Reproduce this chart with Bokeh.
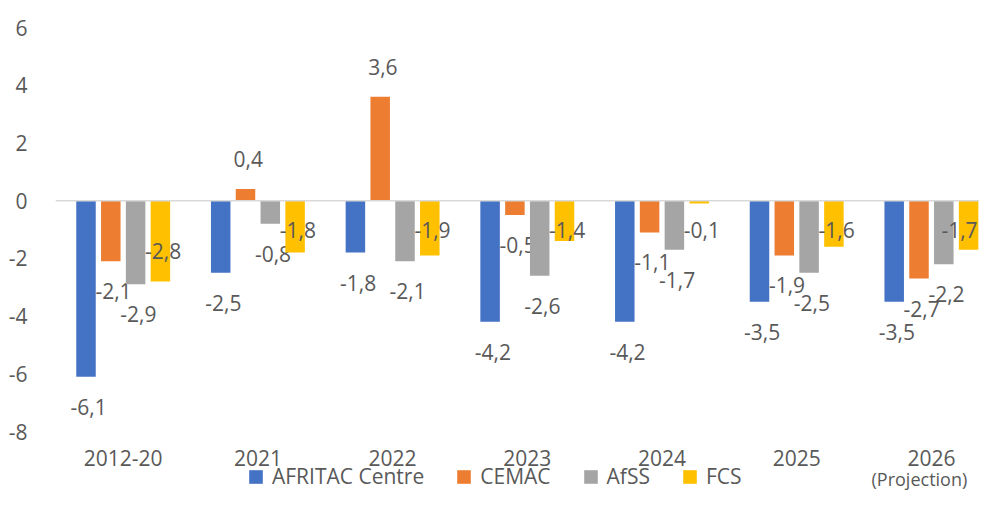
from bokeh.plotting import figure
from bokeh.models import (ColumnDataSource, Range1d, FixedTicker, Span, Legend, LegendItem, Label)
from bokeh.transform import dodge
from bokeh.core.properties import value
from bokeh.embed import file_html
from bokeh.resources import INLINE

categories = ["2012-20", "2021", "2022", "2023", "2024", "2025", "2026"]
series_names = ["AFRITAC Centre", "CEMAC", "AfSS", "FCS"]
afritac = [-6.1, -2.5, -1.8, -4.2, -4.2, -3.5, -3.5]
cemac = [-2.1, 0.4, 3.6, -0.5, -1.1, -1.9, -2.7]
afss = [-2.9, -0.8, -2.1, -2.6, -1.7, -2.5, -2.2]
fcs = [-2.8, -1.8, -1.9, -1.4, -0.1, -1.6, -1.7]
y_ticks = [-8, -6, -4, -2, 0, 2, 4, 6]
note = "(Projection)"

colors = ["#4472C4", "#ED7D31", "#A5A5A5", "#FFC000"]
TXT = "#595959"
FONT = "Open Sans"

W, H = 979, 490
LEFT, TOP = 55, 27
PPU = (431 - TOP) / 14.0          # pixels per data unit (vertical)
Y0 = 6 - (H - TOP) / PPU          # frame reaches the canvas bottom
XPPU = 134.7                      # pixels per category
X0 = -67.7 / XPPU
X1 = X0 + (W - LEFT) / XPPU

p = figure(width=W, height=H, output_backend="svg", toolbar_location=None,
           x_range=Range1d(X0, X1), y_range=Range1d(Y0, 6),
           min_border_left=LEFT, min_border_right=0, min_border_top=TOP, min_border_bottom=0)
p.outline_line_color = None
p.grid.visible = False
p.background_fill_color = "white"

xs = list(range(len(categories)))
pitch = 24.8 / XPPU
bw = 19.5 / XPPU
all_series = [afritac, cemac, afss, fcs]
renderers = []
for i, (name, vals, col) in enumerate(zip(series_names, all_series, colors)):
    off = (i - 1.5) * pitch
    if i == 3:
        ly = [min(v + 30 / PPU, -29 / PPU) for v in vals]
    else:
        ly = [v + 30 / PPU if v > 0 else v - 30 / PPU for v in vals]
    # keep labels inside the plot area (shift left near the right edge)
    xo = []
    for x in xs:
        right_px = (x + off + 0.02 - X0) * XPPU + 19
        xo.append(min(0, (W - LEFT - 1) - right_px))
    src = ColumnDataSource(dict(x=xs, top=vals, ly=ly, xo=xo,
                                lab=[f"{v:.1f}".replace(".", ",") for v in vals]))
    r = p.vbar(x=dodge("x", off, range=p.x_range), top="top", bottom=0, width=bw,
               fill_color=col, line_color=None, source=src)
    renderers.append(r)
    p.text(x=dodge("x", off + 0.02, range=p.x_range), y="ly", text="lab", source=src,
           x_offset="xo",
           text_align="center", text_baseline="middle", text_color=TXT,
           text_font=value(FONT), text_font_size="21px")

p.add_layout(Span(location=0, dimension="width", line_color="#D9D9D9", line_width=1.5))

p.xaxis.ticker = FixedTicker(ticks=xs)
p.xaxis.major_label_overrides = {i: c for i, c in enumerate(categories)}
p.xaxis.fixed_location = y_ticks[0]
p.yaxis.ticker = FixedTicker(ticks=y_ticks)
p.yaxis.major_label_overrides = {t: str(t) for t in y_ticks}
for ax in (p.xaxis, p.yaxis):
    ax.axis_line_color = None
    ax.major_tick_line_color = None
    ax.minor_tick_line_color = None
    ax.major_tick_out = 0
    ax.major_tick_in = 0
    ax.major_label_text_color = TXT
    ax.major_label_text_font = FONT
    ax.major_label_text_font_size = "21px"
p.yaxis.major_label_standoff = 28
p.xaxis.major_label_standoff = 18

p.add_layout(Label(x=len(categories) - 1, y=-8 - 47 / PPU, x_offset=-12, text=note,
                   text_align="center", text_baseline="middle",
                   text_color=TXT, text_font=FONT, text_font_size="18px"))

legend = Legend(items=[LegendItem(label=n, renderers=[r]) for n, r in zip(series_names, renderers)],
                orientation="horizontal", location=(192, 0),
                glyph_width=17, glyph_height=17, label_height=17, label_standoff=8, spacing=31,
                padding=0, margin=0, border_line_color=None, background_fill_alpha=0,
                label_text_color=TXT, label_text_font=FONT, label_text_font_size="21px")
p.add_layout(legend)

open("out.html", "w").write(file_html(p, INLINE))
